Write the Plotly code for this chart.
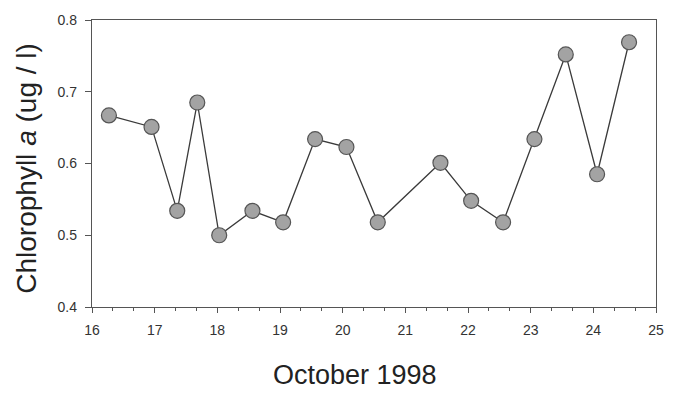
import plotly.graph_objects as go

# Sampling days (October 1998, fractional day) and chlorophyll a concentration
day = [16.27, 16.95, 17.36, 17.68, 18.03, 18.56, 19.05, 19.56, 20.06,
       20.56, 21.56, 22.05, 22.56, 23.06, 23.56, 24.06, 24.57]
chl_a = [0.667, 0.651, 0.534, 0.685, 0.500, 0.534, 0.518, 0.634, 0.623,
         0.518, 0.601, 0.548, 0.518, 0.634, 0.752, 0.585, 0.769]

x_ticks = list(range(16, 26))
y_ticks = [0.4, 0.5, 0.6, 0.7, 0.8]

x_title = "October 1998"
y_title = "Chlorophyll <i>a</i> (ug / l)"

axis_color = "#555555"
font_family = "Liberation Sans, Arial, sans-serif"

fig = go.Figure()
fig.add_trace(go.Scatter(
    x=day, y=chl_a, mode="lines+markers",
    line=dict(color="#3a3a3a", width=1.3),
    marker=dict(size=15, color="#a3a3a3", line=dict(color="#555555", width=1.2)),
    showlegend=False,
))

fig.update_layout(
    width=676, height=393,
    margin=dict(l=92, r=17, t=15, b=86),
    paper_bgcolor="white", plot_bgcolor="white",
    font=dict(family=font_family, color="#222222"),
    xaxis=dict(
        range=[16, 25], tickvals=x_ticks, ticktext=[str(v) for v in x_ticks],
        ticks="outside", ticklen=5, tickcolor=axis_color, tickwidth=1,
        minor=dict(dtick=1 / 3, tick0=16, ticks="outside", ticklen=3,
                   tickcolor=axis_color),
        showline=True, linecolor=axis_color, linewidth=1.3, mirror=True,
        showgrid=False, zeroline=False,
        ticklabelstandoff=5,
        tickfont=dict(size=14, color="#333333"),
    ),
    yaxis=dict(
        range=[0.4, 0.8], tickvals=y_ticks, ticktext=["%.1f" % v for v in y_ticks],
        ticks="outside", ticklen=6, tickcolor=axis_color, tickwidth=1,
        showline=True, linecolor=axis_color, linewidth=1.3, mirror=True,
        showgrid=False, zeroline=False,
        ticklabelstandoff=5,
        tickfont=dict(size=14, color="#333333"),
    ),
    annotations=[
        dict(text=x_title, xref="paper", yref="paper", x=0.467, y=0,
             xanchor="center", yanchor="middle", yshift=-68, showarrow=False,
             font=dict(size=27, color="#222222")),
        dict(text=y_title, xref="paper", yref="paper", x=-0.1164, y=0.483,
             xanchor="center", yanchor="middle", textangle=-90, showarrow=False,
             font=dict(size=28, color="#222222")),
    ],
)

fig.write_html("out.html")
